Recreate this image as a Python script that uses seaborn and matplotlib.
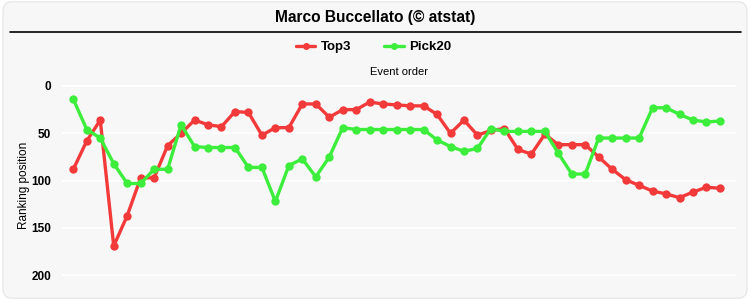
import numpy as np
import pandas as pd
import matplotlib
matplotlib.use("Agg")
import matplotlib.pyplot as plt
import seaborn as sns
from matplotlib.patches import FancyBboxPatch
from matplotlib.lines import Line2D

title = "Marco Buccellato (© atstat)"
series_names = ["Top3", "Pick20"]
top3 = [88, 58, 36, 169, 137, 97, 97, 63, 50, 36, 41, 43, 27, 28, 52, 44, 44, 19, 19, 33,
        25, 25, 17, 19, 20, 21, 21, 30, 50, 36, 52, 47, 45, 67, 72, 51, 62, 62, 62, 75,
        88, 99, 105, 111, 114, 118, 112, 107, 108]
pick20 = [14, 46, 55, 82, 103, 103, 88, 88, 41, 64, 65, 65, 65, 86, 86, 122, 84, 77, 96, 75,
          44, 46, 46, 46, 46, 46, 46, 57, 64, 69, 66, 45, 48, 48, 48, 48, 71, 93, 93, 55,
          55, 55, 55, 23, 23, 30, 36, 38, 37]
y_ticks = [0, 50, 100, 150, 200]
colors = ["#f23a3a", "#3ced3c"]

events = list(range(len(top3)))
df = pd.DataFrame({
    "event": events * 2,
    "rank": top3 + pick20,
    "series": [series_names[0]] * len(top3) + [series_names[1]] * len(pick20),
})

sns.set_theme(style="white")
plt.rcParams["font.family"] = ["Liberation Sans", "DejaVu Sans"]
plt.rcParams["text.color"] = "black"
plt.rcParams["axes.labelcolor"] = "black"
plt.rcParams["ytick.color"] = "black"

bg = "#f7f7f7"
fig = plt.figure(figsize=(7.5, 3.0), dpi=100, facecolor="white")
border = FancyBboxPatch((0.004, 0.006), 0.992, 0.988, boxstyle="round,pad=0,rounding_size=0.012",
                        transform=fig.transFigure, facecolor=bg, edgecolor="#e4e4e4", lw=0.8,
                        mutation_aspect=2.5, zorder=-10)
fig.add_artist(border)

ax = fig.add_axes([0.0823, 0.0333, 0.899, 0.700])
ax.set_zorder(1)
ax.set_facecolor(bg)
sns.lineplot(data=df, x="event", y="rank", hue="series", palette=colors, ax=ax,
             marker="o", markersize=6, markeredgewidth=0, linewidth=2.4, legend=False)

ax.set_xlim(-0.86, 49.19)
ax.set_ylim(215.5, -6.3)
ax.set_yticks(y_ticks)
ax.set_yticklabels([str(t) for t in y_ticks], fontweight="bold", fontsize=8.5)
ax.tick_params(axis="y", length=0, pad=7.5)
ax.set_xticks([])
ax.grid(axis="y", color="white", linewidth=1.5)
ax.set_axisbelow(True)
for s in ax.spines.values():
    s.set_visible(False)
ax.set_xlabel("")
ax.set_ylabel("Ranking position", fontsize=8.5, labelpad=1)
ax.text(0.5, 1.012, "Event order", transform=ax.transAxes, ha="center", va="bottom", fontsize=8)

fig.text(0.5, 0.943, title, ha="center", va="center", fontsize=11.2, fontweight="bold")
fig.add_artist(Line2D([0.0133, 0.988], [0.894, 0.894], color="black", lw=1.2,
                      transform=fig.transFigure))

handles = [Line2D([0], [0], color=c, lw=2.4, marker="o", markersize=5, markeredgewidth=0)
           for c in colors]
fig.legend(handles, series_names, loc="center", bbox_to_anchor=(0.498, 0.843), ncol=2,
           frameon=False, prop={"weight": "bold", "size": 9.5}, handlelength=1.5,
           columnspacing=2.5, handletextpad=0.4)

fig.savefig("out.png", dpi=100, facecolor="white")
